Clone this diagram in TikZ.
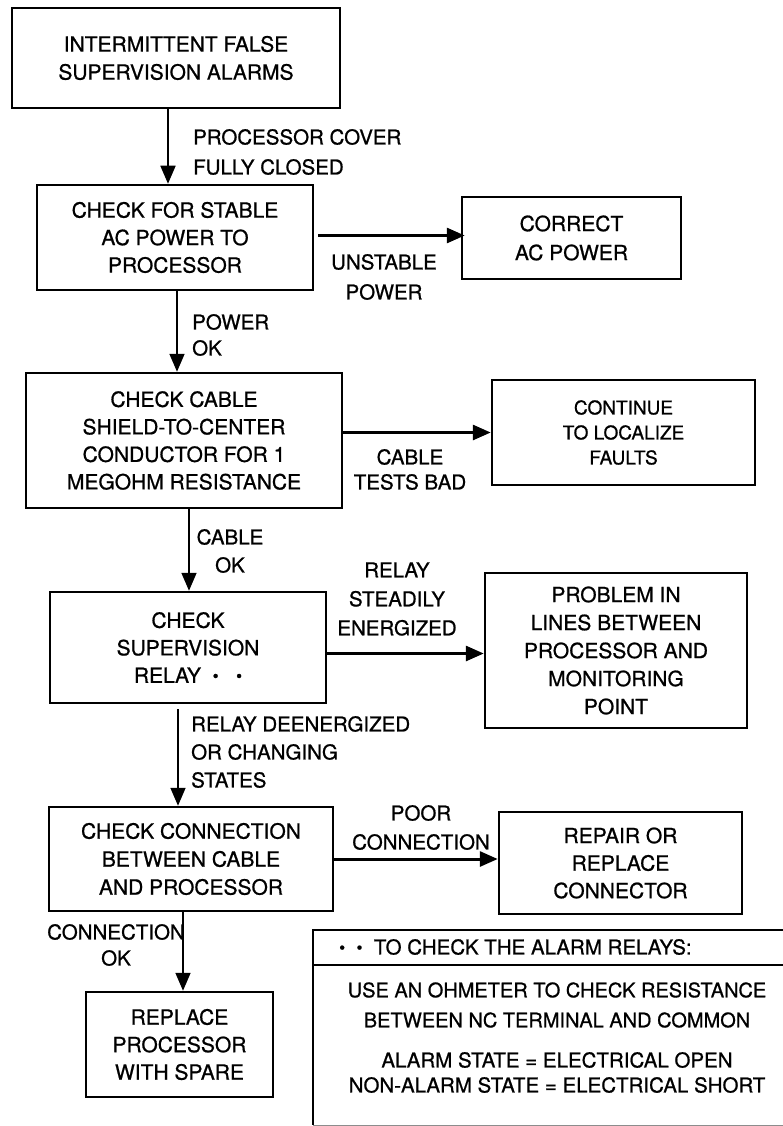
\documentclass[tikz,border=0pt]{standalone}
\usepackage{fontspec}
\setmainfont[FakeBold=0.8]{TeX Gyre Heros}
\usetikzlibrary{arrows.meta}
\newcommand\relaymark{{\fontsize{17}{17}\selectfont\raisebox{1pt}{•}}}
\begin{document}
\begin{tikzpicture}[x=1pt,y=-1pt,
  box/.style={draw, line width=2.5pt, align=center, inner sep=0pt,
    font=\fontsize{21}{27.5}\selectfont},
  lbl/.style={inner sep=0pt, font=\fontsize{20.5}{28}\selectfont},
  vflow/.style={line width=1.8pt, -{Triangle[length=18pt,width=15pt]}},
  hflow/.style={line width=3pt, -{Triangle[length=18pt,width=15pt]}},
  rule/.style={line width=2.5pt},
  faint/.style={line width=1pt, draw=black!45},
]
\useasboundingbox (0,0) rectangle (783,1126);

% process boxes
\node[box, minimum width=328pt, minimum height=100pt, font=\fontsize{21}{28}\selectfont] (b1) at (176,58)
  {INTERMITTENT FALSE\\SUPERVISION ALARMS};
\node[box, minimum width=276pt, minimum height=105pt] (b2) at (175,237.5)
  {CHECK FOR STABLE\\AC POWER TO\\PROCESSOR};
\node[box, minimum width=219pt, minimum height=82pt, font=\fontsize{21}{29}\selectfont] (ok1) at (571.5,238)
  {CORRECT\\AC POWER};
\node[box, minimum width=316pt, minimum height=135pt] (b3) at (184,440.5)
  {CHECK CABLE\\SHIELD-TO-CENTER\\CONDUCTOR FOR 1\\MEGOHM RESISTANCE};
\node[box, minimum width=263pt, minimum height=105pt, font=\fontsize{19}{25}\selectfont] (cont) at (623.5,432.5)
  {CONTINUE\\TO LOCALIZE\\FAULTS};
\node[box, minimum width=276pt, minimum height=111pt] (b4) at (188,647.5)
  {CHECK\\SUPERVISION\\RELAY\ \ \relaymark\ \ \ \relaymark};
\node[box, minimum width=262pt, minimum height=155pt, font=\fontsize{21}{28}\selectfont] (prob) at (616,650.5)
  {PROBLEM IN\\LINES BETWEEN\\PROCESSOR AND\\MONITORING\\POINT};
\node[box, minimum width=284pt, minimum height=104pt, font=\fontsize{21}{28}\selectfont] (b5) at (191,859)
  {CHECK CONNECTION\\BETWEEN CABLE\\AND PROCESSOR};
\node[box, minimum width=243pt, minimum height=102pt] (rep) at (620.5,863)
  {REPAIR OR\\REPLACE\\CONNECTOR};
\node[box, minimum width=187pt, minimum height=105pt] (b6) at (179.5,1044.5)
  {REPLACE\\PROCESSOR\\WITH SPARE};

% connectors
\draw[vflow] ([xshift=-8pt]b1.south) -- ([xshift=-8pt]b1.south |- b2.north);
\draw[hflow] ([xshift=4pt,yshift=2pt]b2.east) -- ([xshift=4pt,yshift=2pt]b2.east -| ok1.west);
\draw[vflow] ([xshift=2pt]b2.south) -- ([xshift=2pt]b2.south |- b3.north);
\draw[hflow] (b3.east |- cont.west) -- (cont.west);
\draw[vflow] ([xshift=5pt]b3.south) -- ([xshift=5pt]b3.south |- b4.north);
\draw[hflow] ([yshift=-6pt]b4.east) -- ([yshift=-6pt]b4.east -| prob.west);
\draw[vflow] ([xshift=-10pt,yshift=-5pt]b4.south) -- ([xshift=-10pt]b4.south |- b5.north);
\draw[hflow] (b5.east) -- (b5.east -| rep.west);
\draw[vflow] ([xshift=-8pt]b5.south) -- ([xshift=-8pt]b5.south |- b6.north);

% connector labels
\node[lbl, align=left, anchor=west, font=\fontsize{20.5}{30}\selectfont] (l1) at (193,152)
  {PROCESSOR COVER\\FULLY CLOSED};
\node[lbl, align=center, font=\fontsize{20.5}{30}\selectfont] (l2) at (384,277)
  {UNSTABLE\\POWER};
\node[lbl, align=left, anchor=west, font=\fontsize{20.5}{26}\selectfont] (l3) at (192,335)
  {POWER\\OK};
\node[lbl, align=center, font=\fontsize{20.5}{25}\selectfont] (l4) at (410,469.5)
  {CABLE\\TESTS BAD};
\node[lbl, align=center] (l5) at (230,551)
  {CABLE\\OK};
\node[lbl, align=center, font=\fontsize{20.5}{29}\selectfont] (l6) at (397,599)
  {RELAY\\STEADILY\\ENERGIZED};
\node[lbl, align=left, anchor=west, font=\fontsize{20.5}{28}\selectfont] (l7) at (191,752)
  {RELAY DEENERGIZED\\OR CHANGING\\STATES};
\node[lbl, align=center, font=\fontsize{20.5}{29}\selectfont] (l8) at (421,827.5)
  {POOR\\CONNECTION};
\node[lbl, align=center, font=\fontsize{20.5}{26}\selectfont] (l9) at (116,945)
  {CONNECTION\\OK};

% footnote panel on the alarm relays
\node[anchor=north west, minimum width=480pt, minimum height=195pt, inner sep=0pt] (note) at (313,930) {};
\draw[rule] (note.north east) -- (note.north west) -- (note.south west);
\draw[faint] (note.south west) -- (note.south east);
\draw[rule] ([yshift=-35pt]note.north west) -- ([yshift=-35pt]note.north east);
\node[lbl, anchor=west, font=\fontsize{20.5}{24}\selectfont] (nh) at ([xshift=26pt,yshift=-17pt]note.north west)
  {\relaymark\ \ \relaymark\ \ TO CHECK THE ALARM RELAYS:};
\node[lbl, align=center, font=\fontsize{20}{30}\selectfont] (n1) at (557,1005)
  {USE AN OHMETER TO CHECK RESISTANCE\\BETWEEN NC TERMINAL AND COMMON};
\node[lbl, align=center, font=\fontsize{20.5}{25}\selectfont] (n2) at (557,1072.5)
  {ALARM STATE = ELECTRICAL OPEN\\NON-ALARM STATE = ELECTRICAL SHORT};
\end{tikzpicture}
\end{document}
